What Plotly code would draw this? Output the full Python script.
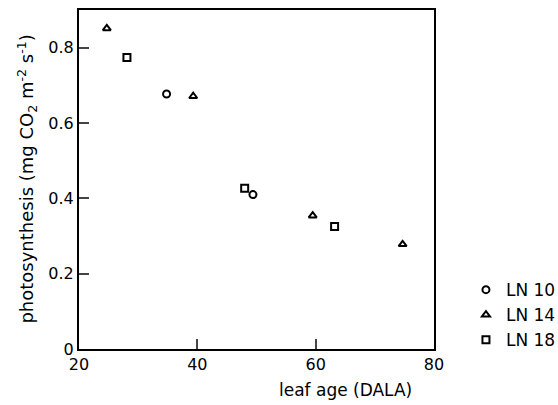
import plotly.graph_objects as go

ln10_x = [34.8, 49.4]
ln10_y = [0.677, 0.41]
ln14_x = [24.7, 39.3, 59.5, 74.7]
ln14_y = [0.851, 0.671, 0.354, 0.278]
ln18_x = [28.1, 48.0, 63.2]
ln18_y = [0.774, 0.427, 0.325]

x_ticks = [20, 40, 60, 80]
y_ticks = [0, 0.2, 0.4, 0.6, 0.8]
y_labels = ["0", "0.2", "0.4", "0.6", "0.8"]

x_title = "leaf age (DALA)"
y_title = "photosynthesis (mg CO<sub>2</sub> m<sup>-2</sup> s<sup>-1</sup>)"

font = "DejaVu Sans, Verdana, sans-serif"

fig = go.Figure()
for name, xs, ys, sym in [("LN 10", ln10_x, ln10_y, "circle-open"),
                          ("LN 14", ln14_x, ln14_y, "triangle-up-open"),
                          ("LN 18", ln18_x, ln18_y, "square-open")]:
    fig.add_trace(go.Scatter(x=xs, y=ys, mode="markers", name=name,
                             marker=dict(symbol=sym, size=7, color="black",
                                         line=dict(color="black", width=2))))

fig.add_annotation(text=x_title, xref="paper", yref="paper",
                   x=0.752, y=-0.121, xanchor="center", yanchor="middle",
                   showarrow=False, font=dict(size=17))
fig.add_annotation(text=y_title, xref="paper", yref="paper",
                   x=-0.149, y=0.5, xanchor="center", yanchor="middle",
                   textangle=-90, showarrow=False, font=dict(size=18))

fig.update_layout(
    width=558, height=405,
    margin=dict(l=79, r=124, t=10, b=56, autoexpand=False),
    paper_bgcolor="white", plot_bgcolor="white",
    font=dict(family=font, size=15, color="black"),
    showlegend=True,
    legend=dict(x=1.09, y=0.1, xanchor="left", yanchor="middle",
                font=dict(size=17), itemwidth=30, tracegroupgap=0,
                bgcolor="rgba(0,0,0,0)"),
    xaxis=dict(range=[20, 80], tickvals=x_ticks, ticks="inside", ticklen=10,
               tickwidth=1.5, showline=True, linewidth=2, linecolor="black",
               mirror=True, showgrid=False, zeroline=False,
               tickfont=dict(size=16)),
    yaxis=dict(range=[0, 0.9], tickvals=y_ticks, ticktext=y_labels,
               ticks="inside", ticklen=10, tickwidth=1.5, showline=True,
               linewidth=2, linecolor="black", mirror=True, showgrid=False,
               zeroline=False, tickfont=dict(size=16)),
)

fig.write_html("out.html")
